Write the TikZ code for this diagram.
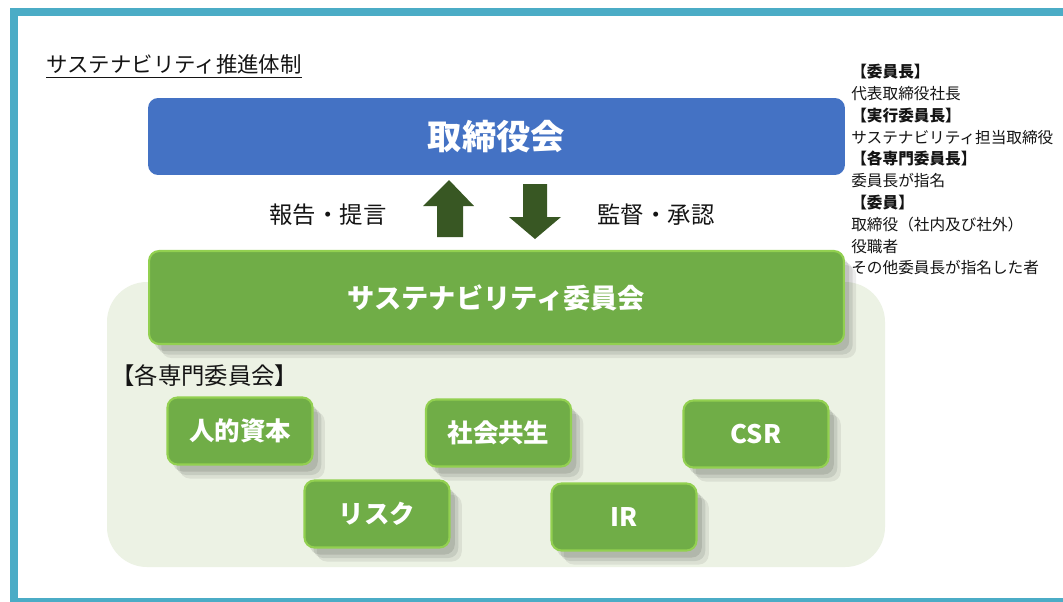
\documentclass[tikz,border=0pt]{standalone}
\usepackage{fontspec}
\setmainfont{Noto Sans CJK JP}
\usetikzlibrary{positioning}
\usetikzlibrary{shadows}

\definecolor{frameteal}{RGB}{75,172,198}
\definecolor{boardblue}{RGB}{68,114,196}
\definecolor{gmid}{RGB}{112,173,71}
\definecolor{glight}{RGB}{146,208,80}
\definecolor{bgpale}{RGB}{236,242,228}
\definecolor{arrowgreen}{RGB}{56,87,35}
\definecolor{txtdark}{RGB}{20,20,20}

\tikzset{
  softshadow/.style={
    drop shadow={opacity=0.10,shadow xshift=3pt,shadow yshift=-4pt,fill=black},
    drop shadow={opacity=0.09,shadow xshift=5pt,shadow yshift=-6pt,fill=black},
    drop shadow={opacity=0.07,shadow xshift=7pt,shadow yshift=-8pt,fill=black}},
  greenbox/.style={rectangle,rounded corners=0.2cm,fill=gmid,draw=glight,line width=1.2pt,
    text=white,font=\fontsize{14.5}{16}\selectfont\bfseries,softshadow},
  smallbox/.style={greenbox,minimum width=2.9cm,minimum height=1.34cm,inner sep=0pt},
  plain/.style={text=txtdark,inner sep=0pt}
}

\begin{document}
\begin{tikzpicture}[x=0.02cm,y=-0.02cm]
\useasboundingbox (0,0) rectangle (1063,602);
\fill[white] (0,0) rectangle (1063,602);
\draw[frameteal,line width=0.16cm] (14,12) rectangle (1075,602);

\node[plain,anchor=west,font=\fontsize{12.2}{14}\selectfont] (title) at (46,64) {サステナビリティ推進体制};
\draw[txtdark,line width=0.6pt] ([yshift=-2pt]title.south west) -- ([yshift=-2pt]title.south east);

\draw[draw=none,fill=bgpale,rounded corners=0.8cm] (107,282) rectangle (885,567);

\node[rectangle,rounded corners=0.2cm,fill=boardblue,minimum width=13.94cm,minimum height=1.54cm,
  text=white,font=\fontsize{19.5}{22}\selectfont\bfseries] (board) at (496.5,136.5) {取締役会};

\node[greenbox,minimum width=13.9cm,minimum height=1.86cm,font=\fontsize{15.5}{18}\selectfont\bfseries]
  (committee) at (496.5,297.5) {サステナビリティ委員会};

% up / down arrows
\fill[arrowgreen] (449,180) -- (474,206) -- (463,206) -- (463,237) -- (437,237) -- (437,206) -- (423,206) -- cycle;
\fill[arrowgreen] (535,239) -- (561,217) -- (547,217) -- (547,184) -- (523,184) -- (523,217) -- (509,217) -- cycle;

\node[plain,font=\fontsize{13.3}{15}\selectfont] (report) at (328,215) {報告・提言};
\node[plain,font=\fontsize{13.3}{15}\selectfont] (audit) at (656,215) {監督・承認};

\node[plain,anchor=west,font=\fontsize{13.3}{15}\selectfont] (sub) at (111,376) {【各専門委員会】};

\node[smallbox] (human) at (240,431) {人的資本};
\node[smallbox] (social) at (498.5,433) {社会共生};
\node[smallbox] (csr) at (756,434) {CSR};
\node[smallbox] (risk) at (377,514) {リスク};
\node[smallbox] (ir) at (624,517) {IR};

\node[plain,anchor=north west,align=left,font=\fontsize{8.9}{12.4}\selectfont] (members) at (851,64) {%
\textbf{【委員長】}\\
代表取締役社長\\
\textbf{【実行委員長】}\\
サステナビリティ担当取締役\\
\textbf{【各専門委員長】}\\
委員長が指名\\
\textbf{【委員】}\\
取締役（社内及び社外）\\
役職者\\
その他委員長が指名した者};

\end{tikzpicture}
\end{document}
